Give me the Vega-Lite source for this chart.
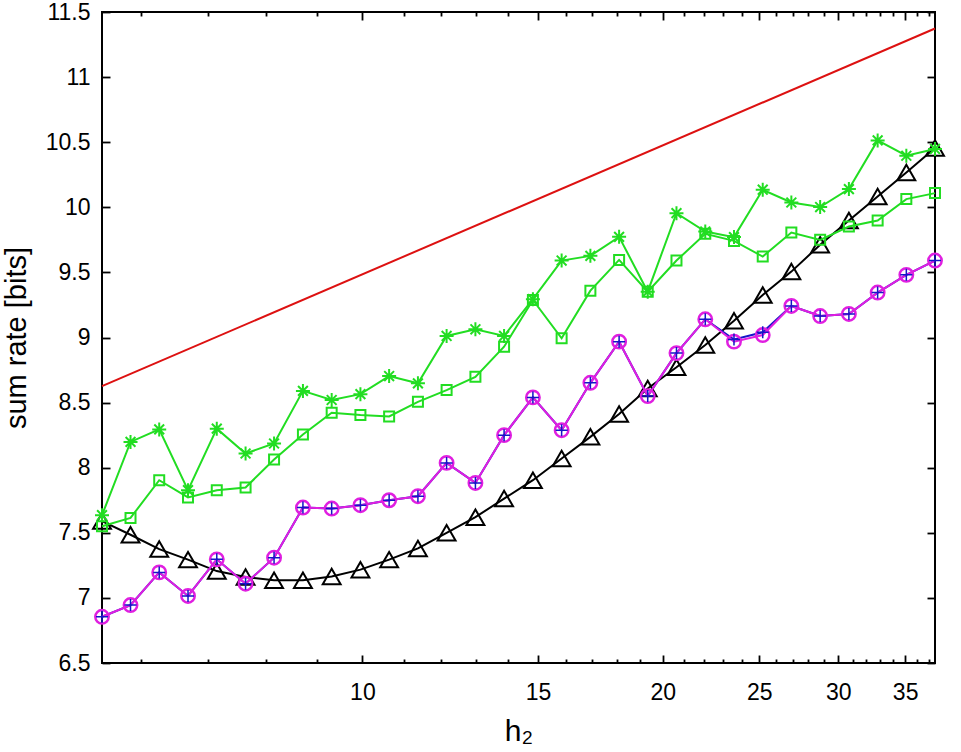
{
  "$schema": "https://vega.github.io/schema/vega-lite/v6.json",
  "width": 833,
  "height": 651,
  "autosize": "none",
  "padding": {"left": 102, "top": 12, "right": 26, "bottom": 89},
  "background": "white",
  "config": {
    "view": {"stroke": "black", "strokeWidth": 2},
    "font": "Liberation Sans",
    "axis": {"grid": false, "domain": false, "tickColor": "black", "tickWidth": 1.8, "labelColor": "black", "labelFont": "Liberation Sans", "labelFontSize": 23, "titleFont": "Liberation Sans", "titleFontWeight": "normal", "titleColor": "black", "labelOverlap": false, "labelFlush": false}
  },
  "datasets": {
    "red": [{"h2": 5.482, "r": 8.627}, {"h2": 37.497, "r": 11.373}],
    "stars": [{"h2":5.482,"r":7.635},{"h2":5.855,"r":8.198},{"h2":6.256,"r":8.294},{"h2":6.686,"r":7.827},{"h2":7.145,"r":8.3},{"h2":7.636,"r":8.109},{"h2":8.155,"r":8.186},{"h2":8.717,"r":8.59},{"h2":9.315,"r":8.52},{"h2":9.954,"r":8.565},{"h2":10.636,"r":8.704},{"h2":11.367,"r":8.648},{"h2":12.145,"r":9.012},{"h2":12.98,"r":9.063},{"h2":13.868,"r":9.012},{"h2":14.822,"r":9.294},{"h2":15.838,"r":9.591},{"h2":16.925,"r":9.627},{"h2":18.085,"r":9.773},{"h2":19.32,"r":9.352},{"h2":20.646,"r":9.955},{"h2":22.065,"r":9.814},{"h2":23.577,"r":9.771},{"h2":25.194,"r":10.135},{"h2":26.915,"r":10.037},{"h2":28.765,"r":10.002},{"h2":30.738,"r":10.14},{"h2":32.847,"r":10.514},{"h2":35.096,"r":10.396},{"h2":37.497,"r":10.448}],
    "squares": [{"h2":5.482,"r":7.55},{"h2":5.855,"r":7.614},{"h2":6.256,"r":7.904},{"h2":6.686,"r":7.772},{"h2":7.145,"r":7.827},{"h2":7.636,"r":7.848},{"h2":8.155,"r":8.063},{"h2":8.717,"r":8.255},{"h2":9.315,"r":8.422},{"h2":9.954,"r":8.404},{"h2":10.636,"r":8.394},{"h2":11.367,"r":8.506},{"h2":12.145,"r":8.596},{"h2":12.98,"r":8.698},{"h2":13.868,"r":8.929},{"h2":14.822,"r":9.288},{"h2":15.838,"r":8.994},{"h2":16.925,"r":9.36},{"h2":18.085,"r":9.596},{"h2":19.32,"r":9.352},{"h2":20.646,"r":9.591},{"h2":22.065,"r":9.796},{"h2":23.577,"r":9.742},{"h2":25.194,"r":9.622},{"h2":26.915,"r":9.806},{"h2":28.765,"r":9.75},{"h2":30.738,"r":9.852},{"h2":32.847,"r":9.898},{"h2":35.096,"r":10.063},{"h2":37.497,"r":10.109}],
    "triangles": [{"h2":5.482,"r":7.59},{"h2":5.855,"r":7.485},{"h2":6.256,"r":7.375},{"h2":6.686,"r":7.294},{"h2":7.145,"r":7.206},{"h2":7.636,"r":7.16},{"h2":8.155,"r":7.135},{"h2":8.717,"r":7.135},{"h2":9.315,"r":7.165},{"h2":9.954,"r":7.217},{"h2":10.636,"r":7.294},{"h2":11.367,"r":7.38},{"h2":12.145,"r":7.5},{"h2":12.98,"r":7.62},{"h2":13.868,"r":7.763},{"h2":14.822,"r":7.904},{"h2":15.838,"r":8.071},{"h2":16.925,"r":8.237},{"h2":18.085,"r":8.412},{"h2":19.32,"r":8.609},{"h2":20.646,"r":8.771},{"h2":22.065,"r":8.942},{"h2":23.577,"r":9.129},{"h2":25.194,"r":9.327},{"h2":26.915,"r":9.506},{"h2":28.765,"r":9.712},{"h2":30.738,"r":9.898},{"h2":32.847,"r":10.083},{"h2":35.096,"r":10.268},{"h2":37.497,"r":10.455}],
    "circles": [{"h2":5.482,"r":6.855},{"h2":5.855,"r":6.945},{"h2":6.256,"r":7.196},{"h2":6.686,"r":7.015},{"h2":7.145,"r":7.296},{"h2":7.636,"r":7.109},{"h2":8.155,"r":7.309},{"h2":8.717,"r":7.694},{"h2":9.315,"r":7.686},{"h2":9.954,"r":7.712},{"h2":10.636,"r":7.75},{"h2":11.367,"r":7.781},{"h2":12.145,"r":8.037},{"h2":12.98,"r":7.883},{"h2":13.868,"r":8.25},{"h2":14.822,"r":8.54},{"h2":15.838,"r":8.288},{"h2":16.925,"r":8.652},{"h2":18.085,"r":8.968},{"h2":19.32,"r":8.55},{"h2":20.646,"r":8.88},{"h2":22.065,"r":9.14},{"h2":23.577,"r":8.968},{"h2":25.194,"r":9.019},{"h2":26.915,"r":9.242},{"h2":28.765,"r":9.165},{"h2":30.738,"r":9.181},{"h2":32.847,"r":9.345},{"h2":35.096,"r":9.481},{"h2":37.497,"r":9.591}],
    "plus": [{"h2":5.482,"r":6.855},{"h2":5.855,"r":6.945},{"h2":6.256,"r":7.196},{"h2":6.686,"r":7.015},{"h2":7.145,"r":7.296},{"h2":7.636,"r":7.109},{"h2":8.155,"r":7.309},{"h2":8.717,"r":7.694},{"h2":9.315,"r":7.686},{"h2":9.954,"r":7.712},{"h2":10.636,"r":7.75},{"h2":11.367,"r":7.781},{"h2":12.145,"r":8.037},{"h2":12.98,"r":7.883},{"h2":13.868,"r":8.25},{"h2":14.822,"r":8.54},{"h2":15.838,"r":8.288},{"h2":16.925,"r":8.652},{"h2":18.085,"r":8.968},{"h2":19.32,"r":8.55},{"h2":20.646,"r":8.88},{"h2":22.065,"r":9.14},{"h2":23.577,"r":8.985},{"h2":25.194,"r":9.04},{"h2":26.915,"r":9.242},{"h2":28.765,"r":9.165},{"h2":30.738,"r":9.181},{"h2":32.847,"r":9.345},{"h2":35.096,"r":9.481},{"h2":37.497,"r":9.591}]
  },
  "resolve": {"axis": {"x": "independent", "y": "independent"}},
  "layer": [
    {
      "layer": [
        {
          "data": {"name": "red"},
          "mark": {"type": "line", "color": "#dd1111", "strokeWidth": 2},
          "encoding": {
            "x": {"field": "h2", "type": "quantitative",
              "scale": {"type": "log", "domain": [5.482, 37.497], "nice": false},
              "axis": {"orient": "bottom", "values": [6,7,8,9,10,11,12,13,14,15,16,17,18,19,20,21,22,23,24,25,26,27,28,29,30,31,32,33,34,35,36,37],
                "format": "d",
                "labelExpr": "indexof([10,15,20,25,30,35], datum.value) >= 0 ? datum.label : ''",
                "tickSize": {"condition": {"test": "indexof([10,15,20,25,30,35], datum.value) >= 0", "value": -8}, "value": -4},
                "labelPadding": 26,
                "title": "h₂", "titleFontSize": 30, "titlePadding": 8}},
            "y": {"field": "r", "type": "quantitative",
              "scale": {"domain": [6.5, 11.5], "nice": false, "zero": false},
              "axis": {"orient": "left", "values": [6.5,7,7.5,8,8.5,9,9.5,10,10.5,11,11.5], "format": "~g",
                "tickSize": -8, "labelPadding": 20,
                "title": "sum rate [bits]", "titleFontSize": 29, "titlePadding": 14}}
          }
        },
        {
          "data": {"name": "triangles"},
          "mark": {"type": "line", "color": "black", "strokeWidth": 2},
          "encoding": {"x": {"field": "h2", "type": "quantitative"}, "y": {"field": "r", "type": "quantitative"}}
        },
        {
          "data": {"name": "triangles"},
          "mark": {"type": "point", "shape": "triangle-up", "size": 320, "color": "black", "strokeWidth": 2, "filled": false, "opacity": 1},
          "encoding": {"x": {"field": "h2", "type": "quantitative"}, "y": {"field": "r", "type": "quantitative"}}
        },
        {
          "data": {"name": "plus"},
          "mark": {"type": "line", "color": "#1515c8", "strokeWidth": 2},
          "encoding": {"x": {"field": "h2", "type": "quantitative"}, "y": {"field": "r", "type": "quantitative"}}
        },
        {
          "data": {"name": "circles"},
          "mark": {"type": "line", "color": "#e01fe0", "strokeWidth": 2},
          "encoding": {"x": {"field": "h2", "type": "quantitative"}, "y": {"field": "r", "type": "quantitative"}}
        },
        {
          "data": {"name": "circles"},
          "mark": {"type": "point", "shape": "circle", "size": 180, "color": "#e01fe0", "strokeWidth": 2.5, "filled": false, "opacity": 1},
          "encoding": {"x": {"field": "h2", "type": "quantitative"}, "y": {"field": "r", "type": "quantitative"}}
        },
        {
          "data": {"name": "plus"},
          "mark": {"type": "point", "shape": "M-1,0H1M0,-1V1", "size": 144, "color": "#1515c8", "strokeWidth": 1.5, "filled": false, "opacity": 1},
          "encoding": {"x": {"field": "h2", "type": "quantitative"}, "y": {"field": "r", "type": "quantitative"}}
        },
        {
          "data": {"name": "squares"},
          "mark": {"type": "line", "color": "#22dd22", "strokeWidth": 2},
          "encoding": {"x": {"field": "h2", "type": "quantitative"}, "y": {"field": "r", "type": "quantitative"}}
        },
        {
          "data": {"name": "squares"},
          "mark": {"type": "point", "shape": "square", "size": 100, "color": "#22dd22", "strokeWidth": 2, "filled": false, "opacity": 1},
          "encoding": {"x": {"field": "h2", "type": "quantitative"}, "y": {"field": "r", "type": "quantitative"}}
        },
        {
          "data": {"name": "stars"},
          "mark": {"type": "line", "color": "#22dd22", "strokeWidth": 2},
          "encoding": {"x": {"field": "h2", "type": "quantitative"}, "y": {"field": "r", "type": "quantitative"}}
        },
        {
          "data": {"name": "stars"},
          "mark": {"type": "point", "shape": "M-1,0H1M0,-1V1M-0.7,-0.7L0.7,0.7M-0.7,0.7L0.7,-0.7", "size": 196, "color": "#22dd22", "strokeWidth": 2, "filled": false, "opacity": 1},
          "encoding": {"x": {"field": "h2", "type": "quantitative"}, "y": {"field": "r", "type": "quantitative"}}
        }
      ]
    },
    {
      "data": {"name": "red"},
      "mark": {"type": "point", "opacity": 0},
      "encoding": {
        "x": {"field": "h2", "type": "quantitative",
          "scale": {"type": "log", "domain": [5.482, 37.497], "nice": false},
          "axis": {"orient": "top", "values": [6,7,8,9,10,11,12,13,14,15,16,17,18,19,20,21,22,23,24,25,26,27,28,29,30,31,32,33,34,35,36,37],
            "labels": false, "title": null,
            "tickSize": {"condition": {"test": "indexof([10,15,20,25,30,35], datum.value) >= 0", "value": -8}, "value": -4}}},
        "y": {"field": "r", "type": "quantitative",
          "scale": {"domain": [6.5, 11.5], "nice": false, "zero": false},
          "axis": {"orient": "right", "values": [6.5,7,7.5,8,8.5,9,9.5,10,10.5,11,11.5], "labels": false, "title": null, "tickSize": -8}}
      }
    }
  ]
}
